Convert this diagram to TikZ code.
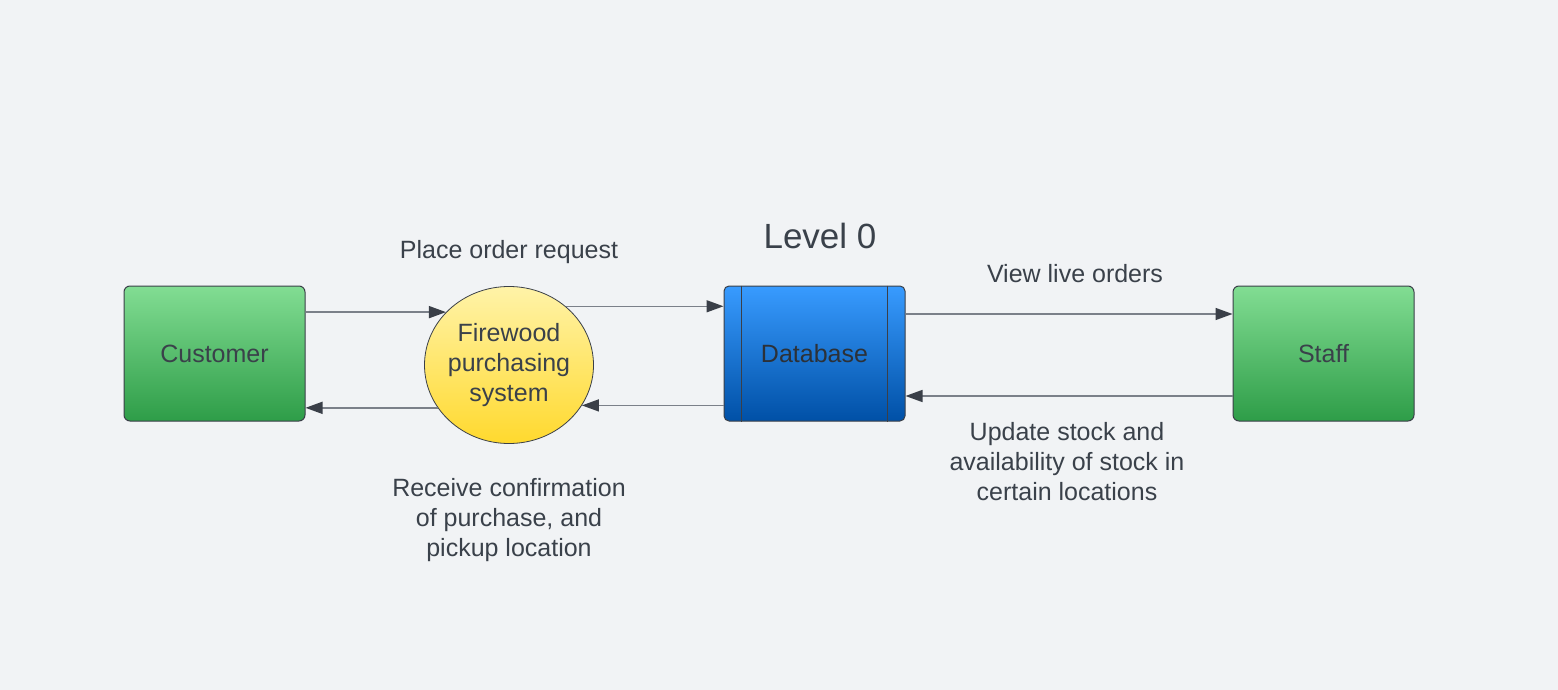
\documentclass[tikz,border=0pt]{standalone}
\usepackage{fontspec}
\setmainfont{Liberation Sans}
\usepackage{tikz}
\usetikzlibrary{arrows.meta,shapes.geometric}
\definecolor{bgcol}{HTML}{F1F3F5}
\definecolor{txtcol}{HTML}{3A414A}
\definecolor{edgecol}{HTML}{7B8089}
\definecolor{tipcol}{HTML}{3A3F48}
\definecolor{greentop}{HTML}{82DD93}
\definecolor{greenbot}{HTML}{2E9D48}
\definecolor{yellowtop}{HTML}{FFF3A8}
\definecolor{yellowbot}{HTML}{FFD92E}
\definecolor{bluetop}{HTML}{389BFF}
\definecolor{bluemid}{HTML}{0078EE}
\definecolor{bluebot}{HTML}{0050A6}
\tikzset{
  txt/.style={text=txtcol,font=\fontsize{25}{30}\selectfont,align=center},
  entity/.style={txt,draw=tipcol,line width=1pt,rounded corners=6pt,minimum width=181pt,minimum height=135pt,top color=greentop,bottom color=greenbot},
  process/.style={txt,ellipse,draw=tipcol,line width=0.8pt,minimum width=169pt,minimum height=157pt,inner xsep=-2pt,inner ysep=0pt,top color=yellowtop,bottom color=yellowbot},
  store/.style={txt,text=txtcol!75!black,draw=tipcol,line width=1pt,rounded corners=5pt,minimum width=181pt,minimum height=135pt,top color=bluetop,middle color=bluemid,bottom color=bluebot},
  flow/.style={draw=edgecol,line width=1.5pt,-{Triangle[length=17pt,width=12pt,color=tipcol]}}
}

\begin{document}
\begin{tikzpicture}[x=1pt,y=-1pt]
\fill[bgcol] (0,0) rectangle (1558,690);
\useasboundingbox (0,0) rectangle (1558,690);

\node[entity] (cust) at (214.5,353.5) {Customer};
\node[process] (proc) at (509,365) {Firewood\\purchasing\\system};
\node[store] (db) at (814.5,353.5) {Database};
\node[entity] (staff) at (1323.5,353.5) {Staff};
\draw[tipcol,line width=0.8pt] ([xshift=17.5pt]db.north west) -- ([xshift=17.5pt]db.south west);
\draw[tipcol,line width=0.8pt] ([xshift=-18pt]db.north east) -- ([xshift=-18pt]db.south east);

\node[txt,font=\fontsize{35}{40}\selectfont] (title) at (820,236) {Level 0};

\draw[flow] (cust.east |- proc.140) -- (proc.140);
\draw[flow] (proc.211) -- (cust.east |- proc.211);
\draw[flow] (proc.46) -- (db.west |- proc.46);
\draw[flow] (db.west |- proc.331) -- (proc.331);
\draw[flow] ([yshift=39.5pt]db.east) -- ([yshift=39.5pt]staff.west);
\draw[flow] ([yshift=-42.5pt]staff.west) -- ([yshift=-42.5pt]db.east);

\node[txt] (order) at (509,252) {Place order request};
\node[txt] (confirm) at (509,520) {Receive confirmation\\of purchase, and\\pickup location};
\node[txt] (view) at (1075,274) {View live orders};
\node[txt] (update) at (1067,462) {Update stock and\\availability of stock in\\certain locations};
\end{tikzpicture}
\end{document}
